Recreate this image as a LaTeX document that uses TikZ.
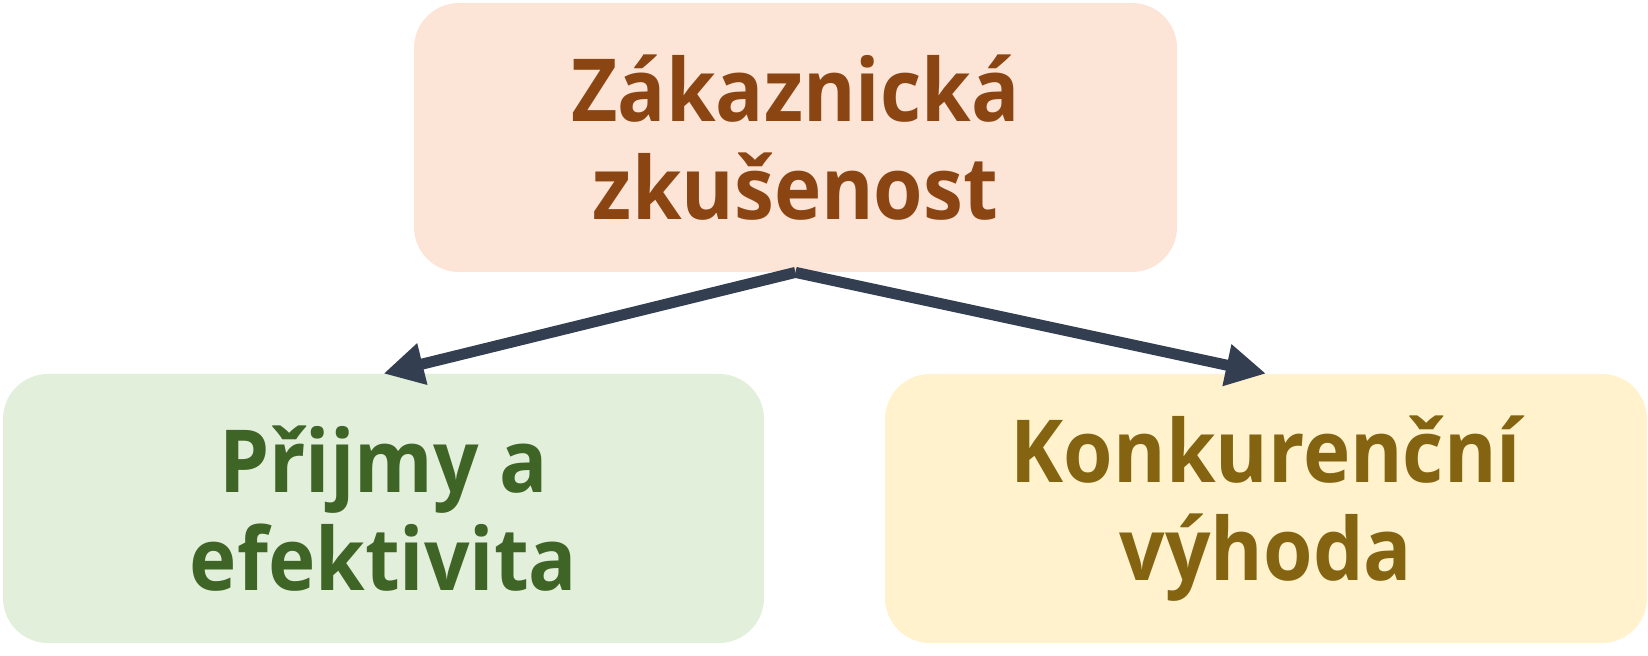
\documentclass[tikz,border=0pt]{standalone}
\usepackage{fontspec}
\setmainfont{Open Sans}[FakeStretch=0.92]
\usepackage{tikz}
\usetikzlibrary{arrows.meta, positioning}
\definecolor{zkfill}{HTML}{FCE4D6}
\definecolor{zktext}{HTML}{8B4513}
\definecolor{pefill}{HTML}{E2EFDA}
\definecolor{petext}{HTML}{3E6426}
\definecolor{kvfill}{HTML}{FFF2CC}
\definecolor{kvtext}{HTML}{846410}
\definecolor{arrowc}{HTML}{333F50}
\tikzset{>={Triangle[length=20pt,width=20pt]}}
\tikzset{box/.style={rounded corners=22.5pt, minimum height=134.5pt, inner sep=0pt,
  align=center, font=\fontsize{43.5}{48.75}\selectfont\bfseries}}

\begin{document}
\begin{tikzpicture}
\useasboundingbox (0,0) rectangle (824pt,-328pt);
\node[box, fill=zkfill, text=zktext, minimum width=381.5pt] (zk) at (397.75pt,-68.75pt)
  {Zákaznická\\zkušenost};
\node[box, fill=pefill, text=petext, minimum width=380.5pt] (pe) at (191.75pt,-254.25pt)
  {Přijmy a\\efektivita};
\node[box, fill=kvfill, text=kvtext, minimum width=381pt] (kv) at (633pt,-254.25pt)
  {Konkurenční\\výhoda};
\draw[->, line width=5.5pt, arrowc] (zk.south) -- (pe.north);
\draw[->, line width=5.5pt, arrowc] (zk.south) -- (kv.north);
\end{tikzpicture}
\end{document}
